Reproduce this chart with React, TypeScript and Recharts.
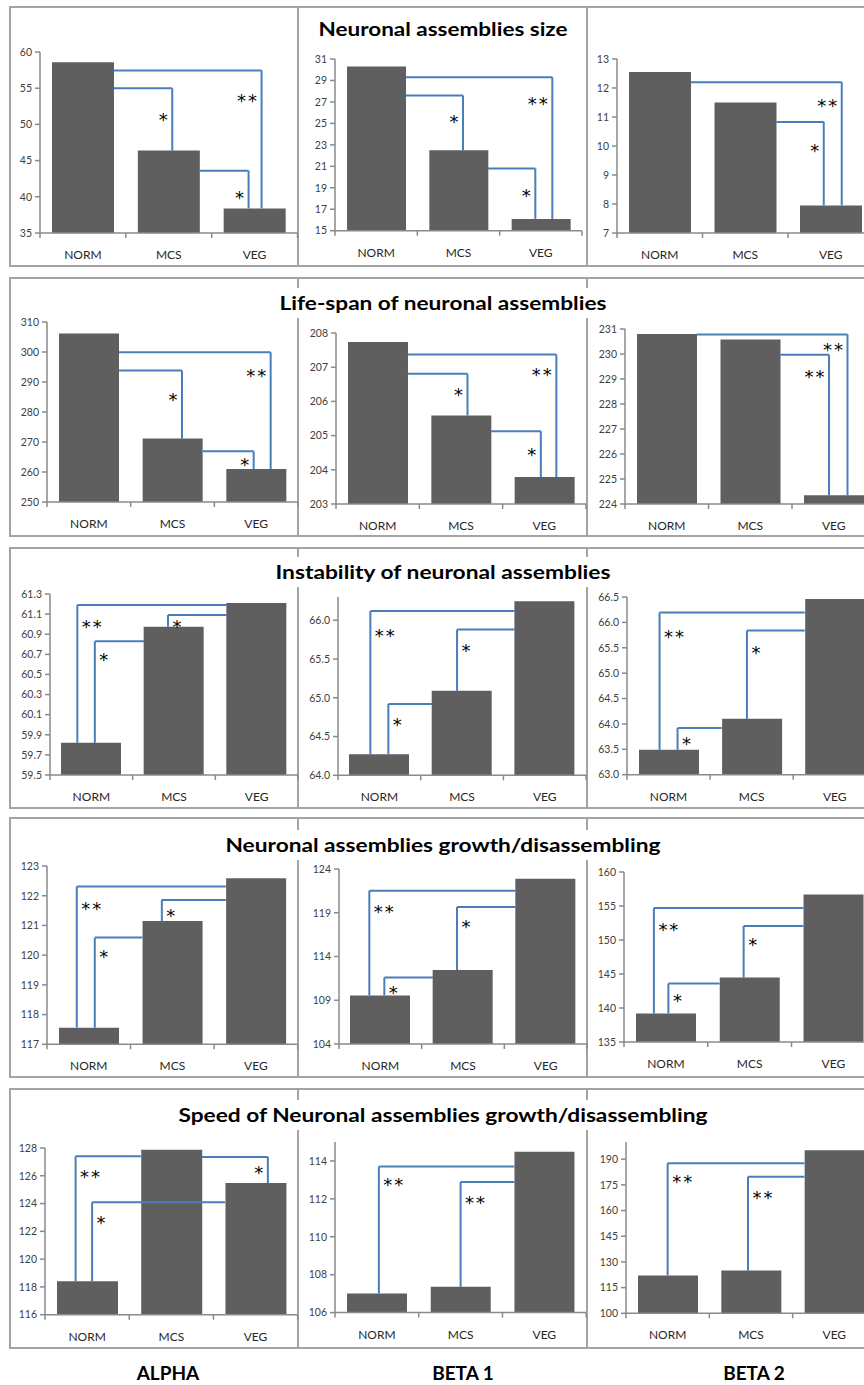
import { BarChart, Bar, XAxis, YAxis, ReferenceLine, ReferenceDot } from 'recharts';

const groups = ['NORM', 'MCS', 'VEG'];
const bands = ['ALPHA', 'BETA 1', 'BETA 2'];
const titles = [
  'Neuronal assemblies size',
  'Life-span of neuronal assemblies',
  'Instability of neuronal assemblies',
  'Neuronal assemblies growth/disassembling',
  'Speed of Neuronal assemblies growth/disassembling',
];

// values per band: [NORM, MCS, VEG]
const sizeValues = [[58.6, 46.4, 38.4], [30.3, 22.5, 16.1], [12.55, 11.5, 7.95]];
const sizeDomains = [[35, 60], [15, 31], [7, 13]];
const sizeTicks = [[35, 40, 45, 50, 55, 60], [15, 17, 19, 21, 23, 25, 27, 29, 31], [7, 8, 9, 10, 11, 12, 13]];
const sizeBrackets = [
  [{ low: 2, high: 0, level: 57.45, mark: '**' }, { low: 1, high: 0, level: 55.0, mark: '*' }, { low: 2, high: 1, level: 43.6, mark: '*' }],
  [{ low: 2, high: 0, level: 29.3, mark: '**' }, { low: 1, high: 0, level: 27.6, mark: '*' }, { low: 2, high: 1, level: 20.8, mark: '*' }],
  [{ low: 2, high: 0, level: 12.2, mark: '**' }, { low: 2, high: 1, level: 10.83, mark: '*' }],
];

const lifeValues = [[306.2, 271.2, 261.0], [207.74, 205.59, 203.79], [230.8, 230.58, 224.35]];
const lifeDomains = [[250, 310], [203, 208], [224, 231]];
const lifeTicks = [[250, 260, 270, 280, 290, 300, 310], [203, 204, 205, 206, 207, 208], [224, 225, 226, 227, 228, 229, 230, 231]];
const lifeBrackets = [
  [{ low: 2, high: 0, level: 299.9, mark: '**' }, { low: 1, high: 0, level: 293.8, mark: '*' }, { low: 2, high: 1, level: 266.9, mark: '*' }],
  [{ low: 2, high: 0, level: 207.37, mark: '**' }, { low: 1, high: 0, level: 206.81, mark: '*' }, { low: 2, high: 1, level: 205.13, mark: '*' }],
  [{ low: 2, high: 0, level: 230.78, mark: '**' }, { low: 2, high: 1, level: 229.97, mark: '**' }],
];

const instValues = [[59.82, 60.975, 61.21], [64.27, 65.09, 66.245], [63.49, 64.1, 66.46]];
const instDomains = [[59.5, 61.3], [64, 66.3], [63, 66.5]];
const instTicks = [
  [59.5, 59.7, 59.9, 60.1, 60.3, 60.5, 60.7, 60.9, 61.1, 61.3],
  [64, 64.5, 65, 65.5, 66],
  [63, 63.5, 64, 64.5, 65, 65.5, 66, 66.5],
];
const instBrackets = [
  [{ low: 0, high: 2, level: 61.19, mark: '**' }, { low: 0, high: 1, level: 60.83, mark: '*' }, { low: 1, high: 2, level: 61.09, mark: '*' }],
  [{ low: 0, high: 2, level: 66.12, mark: '**' }, { low: 0, high: 1, level: 64.92, mark: '*' }, { low: 1, high: 2, level: 65.88, mark: '*' }],
  [{ low: 0, high: 2, level: 66.195, mark: '**' }, { low: 0, high: 1, level: 63.92, mark: '*' }, { low: 1, high: 2, level: 65.84, mark: '*' }],
];

const growthValues = [[117.56, 121.15, 122.59], [109.55, 112.46, 122.9], [139.18, 144.47, 156.7]];
const growthDomains = [[117, 123], [104, 124], [135, 160]];
const growthTicks = [[117, 118, 119, 120, 121, 122, 123], [104, 109, 114, 119, 124], [135, 140, 145, 150, 155, 160]];
const growthBrackets = [
  [{ low: 0, high: 2, level: 122.31, mark: '**' }, { low: 0, high: 1, level: 120.59, mark: '*' }, { low: 1, high: 2, level: 121.86, mark: '*' }],
  [{ low: 0, high: 2, level: 121.52, mark: '**' }, { low: 0, high: 1, level: 111.6, mark: '*' }, { low: 1, high: 2, level: 119.66, mark: '*' }],
  [{ low: 0, high: 2, level: 154.7, mark: '**' }, { low: 0, high: 1, level: 143.6, mark: '*' }, { low: 1, high: 2, level: 152.06, mark: '*' }],
];

const speedValues = [[118.4, 127.88, 125.48], [107.01, 107.36, 114.49], [122.1, 125.0, 195.2]];
const speedDomains = [[116, 128], [106, 115], [100, 200]];
const speedTicks = [[116, 118, 120, 122, 124, 126, 128], [106, 108, 110, 112, 114], [100, 115, 130, 145, 160, 175, 190]];
const speedBrackets = [
  [{ low: 0, high: 1, level: 127.4, mark: '**' }, { low: 2, high: 1, level: 127.36, mark: '*' }, { low: 0, high: 2, level: 124.09, mark: '*' }],
  [{ low: 0, high: 2, level: 113.71, mark: '**' }, { low: 1, high: 2, level: 112.89, mark: '**' }],
  [{ low: 0, high: 2, level: 187.6, mark: '**' }, { low: 1, high: 2, level: 179.65, mark: '**' }],
];

// bracket placement in px: [vertical line shift from bar centre, star drop below line]
const sizeNudges = [[[7, 26], [3.5, 27], [-6, 22]], [[11.5, 22], [4.5, 22], [-5.5, 23]], [[11, 19], [-7, 24]]];
const lifeNudges = [[[14.5, 19], [9.5, 24], [-2.5, 9]], [[12, 15], [6.5, 16], [-3.5, 19]], [[13.75, 10], [-4.75, 17]]];
const instNudges = [[[-14, 17], [3.5, 14], [-6, 7]], [[-9, 20], [9, 16], [-5, 16]], [[-9, 20], [9, 11], [-4.7, 17]]];
const growthNudges = [[[-12, 17], [6, 14], [-10.5, 11]], [[-11, 16], [4, 10], [-6, 15]], [[-12, 17], [2.5, 12], [-6, 14]]];
const speedNudges = [[[-11.5, 16], [12.3, 11], [5, 16]], [[2, 14], [0, 16]], [[0, 14], [-3, 16]]];

const rows = [
  { values: sizeValues, domains: sizeDomains, ticks: sizeTicks, digits: 0, brackets: sizeBrackets, nudges: sizeNudges },
  { values: lifeValues, domains: lifeDomains, ticks: lifeTicks, digits: 0, brackets: lifeBrackets, nudges: lifeNudges },
  { values: instValues, domains: instDomains, ticks: instTicks, digits: 1, brackets: instBrackets, nudges: instNudges },
  { values: growthValues, domains: growthDomains, ticks: growthTicks, digits: 0, brackets: growthBrackets, nudges: growthNudges },
  { values: speedValues, domains: speedDomains, ticks: speedTicks, digits: 0, brackets: speedBrackets, nudges: speedNudges },
];

// layout
const FONT = 'Lato, "Open Sans", sans-serif';
const STAR_FONT = '"DejaVu Sans", sans-serif';
const BAR = '#5f5f5f';
const LINK = '#4a7ebb';
const AXIS = '#8a8a8a';
const FRAME = '#a3a3a3';
const rowFrames = [[7, 266], [278, 536], [548, 808], [818, 1077], [1089, 1348]];
const titleY = [29, 303, 572, 845, 1115];
const titleW = [249, 327, 335, 435, 529];
// [y axis x, plot right, plot top, plot bottom]
const plotBoxes = [
  [[40, 297.5, 52.3, 233.3], [335, 582, 59.3, 231], [617, 873.5, 59.3, 233.3]],
  [[47, 298, 322.3, 502.3], [336, 586, 333, 504], [625, 875.5, 329, 504]],
  [[50, 298, 594, 775], [337.6, 585.7, 596.7, 775], [626.7, 876, 597.3, 775]],
  [[46.8, 297.5, 866, 1044.3], [338.8, 586.8, 869.3, 1044.3], [623.7, 875, 871.7, 1041.7]],
  [[45, 297.7, 1148.3, 1315], [334.5, 585.7, 1141.7, 1312.3], [626, 876, 1141.7, 1313]],
];

type Bracket = { low: number; high: number; level: number; mark: string };

function Panel({ values, domain, ticks, digits, brackets, nudges, box }: {
  values: number[]; domain: number[]; ticks: number[]; digits: number;
  brackets: Bracket[]; nudges: number[][]; box: number[];
}) {
  const [ax, rx, ty, by] = box;
  const yw = 44, mt = 10, xh = 36, mr = 4;
  const plotW = rx - ax;
  const plotH = by - ty;
  const catW = plotW / 3;
  const barW = Math.round(catW * 0.72);
  const halfBar = barW / 2 / catW;
  const data = groups.map((name, i) => ({ name, x: i + 0.5, value: values[i] }));

  const xTick = (p: any) => {
    const i = Math.floor(p.payload.value);
    return (
      <g>
        {i === 0 && <line x1={p.x - catW / 2} x2={p.x - catW / 2} y1={p.y} y2={p.y + 5} stroke={AXIS} strokeWidth={1.5} />}
        <line x1={p.x + catW / 2} x2={p.x + catW / 2} y1={p.y} y2={p.y + 5} stroke={AXIS} strokeWidth={1.5} />
        <text x={p.x} y={p.y + 26} textAnchor='middle' fontSize={12} fill='#262626' fontFamily={FONT}>
          {groups[i]}
        </text>
      </g>
    );
  };
  const yTick = (p: any) => (
    <g>
      <line x1={p.x - 5} x2={p.x} y1={p.y} y2={p.y} stroke={AXIS} strokeWidth={1.5} />
      <text x={p.x - 8} y={p.y + 3.8} textAnchor='end' fontSize={10.5} fill='#404040' fontFamily={FONT}>
        {Number(p.payload.value).toFixed(digits)}
      </text>
    </g>
  );

  return (
    <div style={{ position: 'absolute', left: ax - yw, top: ty - mt }}>
      <BarChart
        width={yw + plotW + mr}
        height={mt + plotH + xh}
        data={data}
        margin={{ top: mt, right: mr, left: 0, bottom: 0 }}
      >
        <XAxis
          type='number'
          dataKey='x'
          domain={[0, 3]}
          ticks={[0.5, 1.5, 2.5]}
          interval={0}
          height={xh}
          tickSize={0}
          tickMargin={0}
          tickLine={false}
          axisLine={{ stroke: AXIS, strokeWidth: 1.5 }}
          tick={xTick}
        />
        <YAxis
          type='number'
          domain={domain}
          ticks={ticks}
          interval={0}
          width={yw}
          allowDataOverflow
          tickSize={0}
          tickMargin={0}
          tickLine={false}
          axisLine={{ stroke: AXIS, strokeWidth: 1.5 }}
          tick={yTick}
        />
        <Bar dataKey='value' fill={BAR} barSize={barW} isAnimationActive={false} />
        {brackets.flatMap((b, k) => {
          const [shift, drop] = nudges[k];
          const side = b.high > b.low ? 1 : -1;
          const xv = b.low + 0.5 + shift / catW;
          const xe = b.high + 0.5 - side * halfBar;
          const lx = side * (b.mark.length > 1 ? 14.5 : 9);
          return [
            <ReferenceLine
              key={`v${k}`}
              segment={[{ x: xv, y: values[b.low] }, { x: xv, y: b.level }]}
              stroke={LINK}
              strokeWidth={2}
              ifOverflow='visible'
            />,
            <ReferenceLine
              key={`h${k}`}
              segment={[{ x: xv, y: b.level }, { x: xe, y: b.level }]}
              stroke={LINK}
              strokeWidth={2}
              ifOverflow='visible'
            />,
            <ReferenceDot
              key={`m${k}`}
              x={xv}
              y={b.level}
              r={0}
              ifOverflow='visible'
              shape={(p: any) => (
                <text
                  x={p.cx + lx + (b.mark.length > 1 ? 1 : 0)}
                  y={p.cy + drop + 11}
                  textAnchor='middle'
                  fontSize={18}
                  letterSpacing={b.mark.length > 1 ? 2 : 0}
                  fill='#000'
                  fontFamily={STAR_FONT}
                >
                  {b.mark}
                </text>
              )}
            />,
          ];
        })}
      </BarChart>
    </div>
  );
}

export default function App() {
  return (
    <div
      style={{
        position: 'absolute',
        left: 0,
        top: 0,
        width: 864,
        height: 1385,
        overflow: 'hidden',
        background: '#fff',
        fontFamily: FONT,
      }}
    >
      <svg width={864} height={1385} style={{ position: 'absolute', left: 0, top: 0 }}>
        {rowFrames.map(([t, b], r) => (
          <g key={r}>
            <rect x={10} y={t} width={880} height={b - t} fill='none' stroke={FRAME} strokeWidth={2} />
            <line x1={298} x2={298} y1={t} y2={b} stroke={FRAME} strokeWidth={2} />
            <line x1={587} x2={587} y1={t} y2={b} stroke={FRAME} strokeWidth={2} />
          </g>
        ))}
      </svg>
      {rows.map((row, r) =>
        bands.map((_, c) => (
          <Panel
            key={`${r}-${c}`}
            values={row.values[c]}
            domain={row.domains[c]}
            ticks={row.ticks[c]}
            digits={row.digits}
            brackets={row.brackets[c]}
            nudges={row.nudges[c]}
            box={plotBoxes[r][c]}
          />
        ))
      )}
      <svg width={864} height={1385} style={{ position: 'absolute', left: 0, top: 0, pointerEvents: 'none' }}>
        {titles.map((t, r) => (
          <g key={t}>
            <rect x={443 - titleW[r] / 2 - 4} y={titleY[r] - 15} width={titleW[r] + 8} height={30} fill='#fff' />
            <text
              x={443}
              y={titleY[r] + 6.7}
              textAnchor='middle'
              fontSize={19}
              fontWeight={700}
              fill='#000'
              fontFamily={FONT}
              textLength={titleW[r]}
              lengthAdjust='spacingAndGlyphs'
            >
              {t}
            </text>
          </g>
        ))}
        {bands.map((b, c) => (
          <text
            key={b}
            x={[168, 463, 754][c]}
            y={1380}
            textAnchor='middle'
            fontSize={19}
            fontWeight={700}
            fill='#000'
            fontFamily={FONT}
          >
            {b}
          </text>
        ))}
      </svg>
    </div>
  );
}
